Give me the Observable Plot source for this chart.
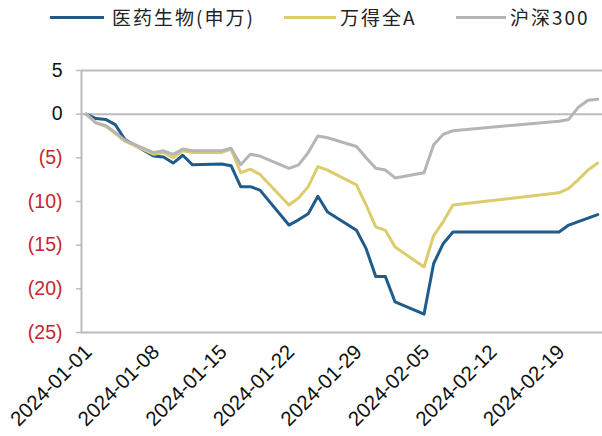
<!DOCTYPE html>
<html><head><meta charset="utf-8">
<script src="https://cdn.jsdelivr.net/npm/d3@7"></script>
<script src="https://cdn.jsdelivr.net/npm/@observablehq/plot@0.6"></script>
<style>
body{margin:0;background:#fff;}
#wrap{width:602px;height:436px;position:relative;overflow:hidden;background:#fff;}
#legend{position:relative;height:40px;width:602px;font-family:"Noto Sans CJK SC","Liberation Sans",sans-serif;font-size:19px;color:#222;letter-spacing:2px;}
.item{position:absolute;top:0;height:33px;display:flex;align-items:center;white-space:nowrap;}
.sw{position:absolute;height:3px;top:16px;}
#chart svg{display:block;}
</style></head><body>
<div id="wrap"><div id="legend"></div><div id="chart"></div></div>
<script>
const dates = ["2024-01-01","2024-01-02","2024-01-03","2024-01-04","2024-01-05",
  "2024-01-08","2024-01-09","2024-01-10","2024-01-11","2024-01-12",
  "2024-01-15","2024-01-16","2024-01-17","2024-01-18","2024-01-19",
  "2024-01-22","2024-01-23","2024-01-24","2024-01-25","2024-01-26",
  "2024-01-29","2024-01-30","2024-01-31","2024-02-01","2024-02-02",
  "2024-02-05","2024-02-06","2024-02-07","2024-02-08",
  "2024-02-19","2024-02-20","2024-02-21","2024-02-22","2024-02-23"];
const pharma = [0,-0.5,-0.6,-1.2,-2.9, -4.8,-4.9,-5.6,-4.7,-5.8, -5.7,-5.9,-8.3,-8.3,-8.7,
  -12.7,-12.1,-11.4,-9.4,-11.2, -13.3,-15.4,-18.6,-18.6,-21.5, -22.9,-17.1,-14.8,-13.5,
  -13.5,-12.7,-12.3,-11.9,-11.5];
const windA = [0,-1.0,-1.4,-2.2,-3.1, -4.6,-4.4,-5.0,-4.2,-4.4, -4.4,-4.0,-6.7,-6.3,-6.9,
  -10.4,-9.6,-8.3,-6.0,-6.4, -8.1,-10.4,-12.9,-13.3,-15.2, -17.5,-13.9,-12.3,-10.4,
  -9.0,-8.5,-7.5,-6.4,-5.6];
const csi300 = [0,-1.0,-1.3,-2.1,-3.0, -4.4,-4.2,-4.6,-4.0,-4.2, -4.2,-3.9,-5.8,-4.6,-4.8,
  -6.2,-5.8,-4.4,-2.5,-2.7, -3.7,-5.0,-6.2,-6.4,-7.3, -6.7,-3.5,-2.3,-1.9,
  -0.8,-0.6,0.8,1.6,1.7];
const seriesNames = ["医药生物(申万)","万得全A","沪深300"];
const seriesColors = ["#1f5c8b","#ddcc6c","#b5b5b5"];
const xTickLabels = ["2024-01-01","2024-01-08","2024-01-15","2024-01-22","2024-01-29","2024-02-05","2024-02-12","2024-02-19"];
const yTicks = [5,0,-5,-10,-15,-20,-25];

// legend
const legendPos = [[50,54,112],[284,52,340],[456,50,510]];
const leg = document.getElementById("legend");
seriesNames.forEach((n,i)=>{
  const [sx,sw,tx] = legendPos[i];
  const s = document.createElement("div"); s.className="sw";
  s.style.left=sx+"px"; s.style.width=sw+"px"; s.style.background=seriesColors[i];
  leg.appendChild(s);
  const t = document.createElement("div"); t.className="item";
  t.style.left=tx+"px"; t.textContent=n; leg.appendChild(t);
});

const parse = d3.utcParse("%Y-%m-%d");
const allSeries = [pharma, windA, csi300];
const rows = [];
seriesNames.forEach((name,i)=>{
  dates.forEach((d,j)=>rows.push({date:parse(d), value:allSeries[i][j], series:name}));
});
const x0 = d3.utcHour.offset(parse(dates[0]), -12);
const x1 = d3.utcHour.offset(parse(dates[dates.length-1]), 12);
const fmt = v => v < 0 ? `(${-v})` : `${v}`;
const gridColor = "#bcbcbc";

const chart = Plot.plot({
  width:602, height:396, marginLeft:81, marginRight:0, marginTop:30, marginBottom:104,
  style:{fontFamily:"'Liberation Sans', Arial, sans-serif", fontSize:"19.5px", background:"#fff", overflow:"visible"},
  x:{type:"utc", domain:[x0,x1]},
  y:{domain:[-25,5]},
  color:{domain:seriesNames, range:seriesColors},
  marks:[
    Plot.ruleY([5,0,-25], {stroke:gridColor, strokeWidth:2}),
    Plot.ruleX([x0], {stroke:gridColor, strokeWidth:2}),
    Plot.axisY(yTicks, {tickSize:5, stroke:gridColor, strokeWidth:1.5, tickFormat:()=>"", label:null}),
    Plot.axisY(yTicks.filter(v=>v>=0), {tickSize:0, tickPadding:19, fill:"#111", tickFormat:fmt, label:null}),
    Plot.axisY(yTicks.filter(v=>v<0), {tickSize:0, tickPadding:19, fill:"#c4272f", tickFormat:fmt, label:null}),
    Plot.axisX(xTickLabels.map(parse), {tickRotate:-45, tickSize:0, tickPadding:16, dx:2, fontSize:20.5, fill:"#111", tickFormat:d3.utcFormat("%Y-%m-%d"), label:null}),
    Plot.line(rows, {x:"date", y:"value", stroke:"series", z:"series", strokeWidth:3, strokeLinejoin:"round", strokeLinecap:"round"})
  ]
});
document.getElementById("chart").appendChild(chart);
</script>
</body></html>
